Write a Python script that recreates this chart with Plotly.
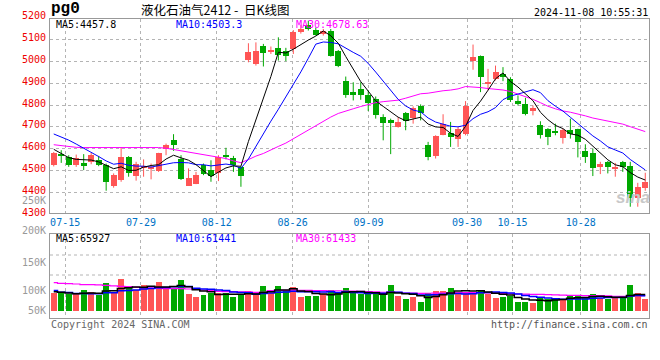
import plotly.graph_objects as go

# ---------------- data ----------------
dates = ["07-11","07-12","07-15","07-16","07-17","07-18","07-19","07-22","07-23","07-24",
         "07-25","07-26","07-29","07-30","07-31","08-01","08-02","08-05","08-06","08-07",
         "08-08","08-09","08-12","08-13","08-14","08-15","08-16","08-19","08-20","08-21",
         "08-22","08-23","08-26","08-27","08-28","08-29","08-30","09-02","09-03","09-04",
         "09-05","09-06","09-09","09-10","09-11","09-12","09-13","09-18","09-19","09-20",
         "09-23","09-24","09-25","09-26","09-27","09-30","10-08","10-09","10-10","10-11",
         "10-14","10-15","10-16","10-17","10-18","10-21","10-22","10-23","10-24","10-25",
         "10-28","10-29","10-30","10-31","11-01","11-04","11-05","11-06","11-07","11-08"]

opens = [4526,4574,4564,4526,4536,4541,4548,4526,4430,4458,
         4564,4476,4511,4506,4500,4601,4642,4552,4432,4439,
         4526,4503,4488,4571,4559,4518,5006,4988,5071,5041,
         5061,5048,5056,5135,5165,5142,5124,5139,5048,4912,
         4859,4871,4848,4829,4745,4730,4700,4764,4742,4794,
         4617,4567,4662,4673,4647,4670,5000,5026,4900,4920,
         4942,4920,4817,4803,4773,4708,4689,4680,4651,4685,
         4689,4589,4579,4521,4538,4508,4538,4521,4374,4420]
highs = [4586,4594,4571,4574,4576,4582,4568,4533,4488,4605,
         4567,4541,4552,4533,4582,4624,4667,4571,4511,4495,
         4533,4548,4571,4605,4568,4521,5082,5086,5079,5067,
         5109,5061,5142,5166,5185,5154,5147,5147,5051,4930,
         4904,4904,4867,4839,4758,4738,4745,4768,4794,4803,
         4632,4662,4758,4723,4700,4818,5076,5026,4965,4980,
         4973,4927,4844,4833,4798,4726,4695,4715,4692,4738,
         4692,4621,4601,4541,4545,4536,4545,4541,4445,4491]
lows = [4520,4536,4518,4518,4503,4530,4521,4409,4423,4450,
        4473,4455,4473,4461,4495,4571,4591,4458,4432,4439,
        4480,4450,4453,4552,4495,4427,4995,4980,4976,5033,
        5003,5000,5033,5126,5140,5117,5117,5021,4973,4833,
        4821,4824,4773,4738,4639,4576,4697,4685,4715,4730,
        4548,4556,4662,4609,4609,4662,4961,4859,4867,4912,
        4909,4814,4798,4753,4753,4647,4617,4662,4624,4647,
        4561,4536,4476,4485,4488,4473,4495,4336,4336,4409]
closes = [4579,4568,4526,4559,4521,4571,4526,4450,4480,4564,
          4488,4530,4521,4518,4582,4617,4617,4461,4465,4480,
          4485,4476,4564,4561,4526,4476,5041,5048,5036,5051,
          5029,5023,5135,5147,5148,5121,5139,5026,4976,4844,
          4845,4844,4809,4753,4718,4720,4723,4727,4788,4764,
          4564,4658,4715,4655,4692,4794,5021,4927,4904,4953,
          4927,4824,4803,4758,4788,4662,4655,4673,4685,4667,
          4632,4561,4511,4529,4518,4518,4518,4377,4426,4450]

# volume in thousands of lots
volumes = [71.8,69.2,65.3,65.3,83.5,75.7,63.9,110.9,69.2,126.6,
           88.7,82.2,103.1,88.7,114.8,88.7,88.7,122.7,67.9,56.1,
           63.9,70.5,71.8,71.8,56.1,63.9,79.6,69.2,99.2,69.2,
           99.2,78.3,95.3,56.1,60.0,60.0,65.3,83.5,71.8,91.4,
           71.8,67.9,65.3,65.3,65.3,103.1,60.0,48.3,56.1,36.5,
           71.8,79.6,79.6,91.4,75.7,75.7,75.7,83.5,67.9,52.2,
           56.1,60.0,36.5,36.5,32.6,52.2,48.3,52.2,44.4,60.0,
           60.0,56.1,67.9,52.2,48.3,52.2,52.2,103.1,71.8,48.3]

# moving-average values before a full window is available
ma5_head = [4598, 4580, 4560, 4552]
ma10_head = [4668, 4655, 4640, 4622, 4604, 4585, 4565, 4545, 4530]
ma30_head = [4619, 4614, 4610, 4607, 4606, 4606, 4606, 4606, 4606, 4606,
             4607, 4607, 4607, 4607, 4606, 4603, 4597, 4590, 4584, 4579,
             4573, 4568, 4563, 4556, 4545, 4537, 4551, 4567, 4579]
vma5_head = [77.0, 74.4, 72.0, 69.2]
vma10_head = [81.0, 75.0, 74.0, 70.0, 69.5, 69.2, 69.2, 73.0, 73.0]
vma30_head = [112.0, 109.6, 108.3, 107.0, 104.4, 104.4, 103.1, 101.8, 99.2, 97.9,
              96.6, 94.0, 92.7, 91.4, 90.0, 88.7, 88.7, 88.7, 87.4, 86.1,
              83.5, 80.9, 78.3, 77.0, 77.0, 75.7, 75.7, 74.4, 74.4]

tick_dates = ["07-15", "07-29", "08-12", "08-26", "09-09", "09-30", "10-15", "10-28"]
price_ticks = [5200, 5100, 5000, 4900, 4800, 4700, 4600, 4500, 4400, 4300]
vol_tick_labels = ["250K", "200K", "150K", "100K", "50K"]
price_ma_labels = ["MA5:4457.8", "MA10:4503.3", "MA30:4678.63"]
vol_ma_labels = ["MA5:65927", "MA10:61441", "MA30:61433"]
symbol = "pg0"
title_text = "液化石油气2412\u00a0-\u00a0\u00a0日K线图"
stamp = "2024-11-08 10:55:31"


def moving_avg(vals, n, head):
    out = list(head)
    for i in range(len(head), len(vals)):
        out.append(sum(vals[i - n + 1:i + 1]) / n)
    return out


ma5 = moving_avg(closes, 5, ma5_head)
ma10 = moving_avg(closes, 10, ma10_head)
ma30 = moving_avg(closes, 30, ma30_head)
vma5 = moving_avg(volumes, 5, vma5_head)
vma10 = moving_avg(volumes, 10, vma10_head)
vma30 = moving_avg(volumes, 30, vma30_head)

# ---------------- styling ----------------
RED = "#ff5555"
GREEN = "#00a800"
MONO = "DejaVu Sans Mono"
GRID = "#b4b4b4"
AXIS = "#999999"
N = len(dates)
idx = list(range(N))
up = [c >= o for o, c in zip(opens, closes)]
cols = [RED if u else GREEN for u in up]

fig = go.Figure()

# wicks
for flag, col in ((True, RED), (False, GREEN)):
    wx, wy = [], []
    for i in idx:
        if up[i] == flag:
            wx += [i, i, None]
            wy += [lows[i], highs[i], None]
    fig.add_trace(go.Scatter(x=wx, y=wy, mode="lines", line=dict(color=col, width=1),
                             xaxis="x", yaxis="y", hoverinfo="skip"))

# bodies
body_base = [min(o, c) for o, c in zip(opens, closes)]
body_h = [max(abs(c - o), 4) for o, c in zip(opens, closes)]
fig.add_trace(go.Bar(x=idx, y=body_h, base=body_base, width=0.8,
                     marker=dict(color=cols, line=dict(width=0)),
                     xaxis="x", yaxis="y", customdata=dates))

# price moving averages
for vals, col in ((ma30, "#ff00ff"), (ma10, "#0000ff"), (ma5, "#000000")):
    fig.add_trace(go.Scatter(x=idx, y=vals, mode="lines", line=dict(color=col, width=1),
                             xaxis="x", yaxis="y"))

# volume bars
fig.add_trace(go.Bar(x=idx, y=volumes, width=0.8,
                     marker=dict(color=cols, line=dict(width=0)),
                     xaxis="x2", yaxis="y2"))
for vals, col, w in ((vma30, "#ff00ff", 1.2), (vma10, "#0000ff", 1.5), (vma5, "#000000", 1.5)):
    fig.add_trace(go.Scatter(x=idx, y=vals, mode="lines", line=dict(color=col, width=w, shape="hvh"),
                             xaxis="x2", yaxis="y2"))

# ---------------- layout ----------------
W, H = 660, 360
ML, MR, MT, MB = 50, 11, 19, 42
PW, PH = W - ML - MR, H - MT - MB


def px(x):
    return (x - ML) / PW


def py(y):
    return (H - MB - y) / PH


tick_idx = [dates.index(d) for d in tick_dates]
tickvals = [t * N / (N - 1) - 0.5 for t in tick_idx]

price_dom = [py(213), 1.0]
price_rng = [4307.4, 5192.6]


def price_paper(v):
    return price_dom[0] + (v - price_rng[0]) / (price_rng[1] - price_rng[0]) * (price_dom[1] - price_dom[0])


common_x = dict(range=[-0.5, N - 0.5], tickvals=tickvals, showgrid=True, griddash="dot",
                gridcolor=GRID, gridwidth=1, showline=True, linecolor=AXIS, linewidth=1,
                mirror=True, zeroline=False, ticks="", automargin=False)

fig.update_layout(
    width=W, height=H, margin=dict(l=ML, r=MR, t=MT, b=MB, autoexpand=False),
    paper_bgcolor="white", plot_bgcolor="white", showlegend=False,
    bargap=0, hovermode=False,
    xaxis=dict(common_x, anchor="y", ticktext=tick_dates,
               tickfont=dict(family=MONO, size=10, color="#0072c6")),
    yaxis=dict(domain=price_dom, range=price_rng, tickvals=price_ticks[1:-1],
               showticklabels=False, showgrid=True, griddash="dot", gridcolor=GRID,
               showline=True, linecolor=AXIS, mirror=True, zeroline=False, ticks="",
               automargin=False),
    xaxis2=dict(common_x, anchor="y2", matches="x", showticklabels=False),
    yaxis2=dict(domain=[0, py(234.3)], range=[-26.2, 301.5], showgrid=False,
                showticklabels=False, showline=True, linecolor=AXIS, mirror=True,
                zeroline=False, ticks="", automargin=False),
)

# horizontal dotted grid in volume panel
for gy in (255, 275):
    fig.add_shape(type="line", xref="paper", yref="paper", x0=0, x1=1, y0=py(gy), y1=py(gy),
                  line=dict(color=GRID, width=1, dash="dot"), layer="below")

ann = []


def txt(text, x, y, xanchor="left", size=10, color="#000", family=MONO, **kw):
    ann.append(dict(text=text, x=x, y=y, xref="paper", yref="paper",
                    xanchor=xanchor, yanchor="middle", showarrow=False, borderpad=0,
                    font=dict(family=family, size=size, color=color), **kw))


txt("<b>" + symbol + "</b>", px(50), py(9.5), size=16, family="Liberation Mono")
txt(title_text, px(140), py(9.5), size=12.5, family="Noto Sans CJK SC")
txt(stamp, px(649), py(12), xanchor="right", size=10)

for label, xp, col in zip(price_ma_labels, (55, 175, 295), ("#000000", "#0000ff", "#ff00ff")):
    txt(label, px(xp), py(25), color=col)
for label, xp, col in zip(vol_ma_labels, (55, 175, 295), ("#000000", "#0000ff", "#ff00ff")):
    txt(label, px(xp), py(238.5), color=col)

for v in price_ticks:
    txt(str(v), 0, price_paper(v), xanchor="right", color="#ee0000", xshift=-3, yshift=2)
for label, yp in zip(vol_tick_labels, (200.3, 230, 262, 290, 310)):
    txt(label, 0, py(yp), xanchor="right", color="#999999", xshift=-3)

txt("Copyright 2024 SINA.COM", px(50), py(324.5), color="#666666")
txt("http://finance.sina.com.cn", px(649), py(324.5), xanchor="right", color="#555555")
txt("<b><i>sina</i></b>", px(651), py(197), xanchor="right", size=17, color="#c8c8c8",
    family="Liberation Sans")

fig.update_layout(annotations=ann)

fig.write_html("out.html", config={"displayModeBar": False},
               post_script="document.body.style.margin='0px';")
